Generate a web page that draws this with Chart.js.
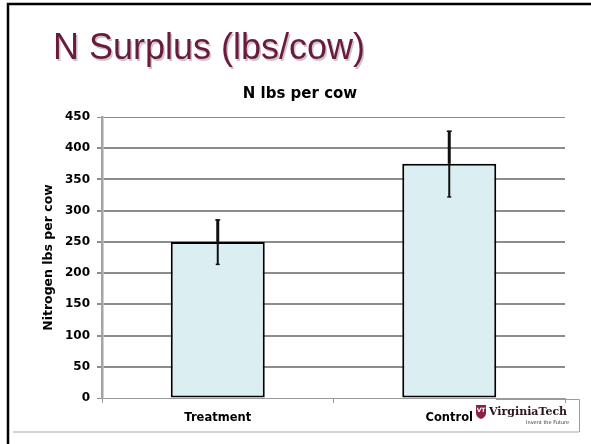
<!DOCTYPE html>
<html>
<head>
<meta charset="utf-8">
<script src="https://cdn.jsdelivr.net/npm/chart.js@4"></script>
<style>
  html, body { margin: 0; padding: 0; background: #ffffff; }
  #wrap { position: relative; width: 591px; height: 444px; }
  canvas { display: block; }
</style>
</head>
<body>
<div id="wrap"><canvas id="c" width="591" height="444"></canvas></div>
<script>
// ---- data ----
const categories = ['Treatment', 'Control'];
const values = [250, 375];
const errors = [36, 53];
const yTicks = [0, 50, 100, 150, 200, 250, 300, 350, 400, 450];
const slideTitle = 'N Surplus (lbs/cow)';
const chartTitle = 'N lbs per cow';
const yTitle = 'Nitrogen lbs per cow';

const BOLD = 'bold';
const FAM = '"DejaVu Sans", sans-serif';

const decorations = {
  id: 'decorations',
  beforeDraw(chart) {
    const ctx = chart.ctx;
    ctx.save();
    ctx.fillStyle = '#ffffff';
    ctx.fillRect(0, 0, chart.width, chart.height);
    ctx.restore();
  },
  afterDraw(chart) {
    const ctx = chart.ctx;
    ctx.save();
    // slide frame
    ctx.strokeStyle = '#000000';
    ctx.lineWidth = 2.5;
    ctx.beginPath();
    ctx.moveTo(8, 444); ctx.lineTo(8, 4); ctx.lineTo(591, 4);
    ctx.stroke();
    // bottom rule
    ctx.strokeStyle = '#c4c4c4';
    ctx.lineWidth = 1.5;
    ctx.beginPath(); ctx.moveTo(13, 432); ctx.lineTo(579, 432); ctx.stroke();
    // slide title
    ctx.font = '36px "Liberation Sans", Arial, sans-serif';
    ctx.textBaseline = 'alphabetic';
    ctx.textAlign = 'left';
    ctx.fillStyle = '#cfc6ca';
    ctx.fillText(slideTitle, 54.5, 60.5);
    ctx.fillStyle = '#6a1b3d';
    ctx.fillText(slideTitle, 53, 59);
    // logo box
    ctx.strokeStyle = '#9a9a9a';
    ctx.lineWidth = 1;
    ctx.beginPath();
    ctx.moveTo(496, 399.5); ctx.lineTo(579.5, 399.5); ctx.lineTo(579.5, 432);
    ctx.stroke();
    // shield
    ctx.fillStyle = '#8b1f45';
    ctx.beginPath();
    ctx.moveTo(476, 405); ctx.lineTo(486, 405); ctx.lineTo(486, 413);
    ctx.quadraticCurveTo(486, 417, 481, 419);
    ctx.quadraticCurveTo(476, 417, 476, 413);
    ctx.closePath(); ctx.fill();
    ctx.fillStyle = '#ffffff';
    ctx.font = 'bold 6px "DejaVu Sans", sans-serif';
    ctx.textAlign = 'center';
    ctx.textBaseline = 'middle';
    ctx.fillText('VT', 481, 410);
    ctx.fillStyle = '#2a1420';
    ctx.font = 'bold 11px "DejaVu Serif", serif';
    ctx.textAlign = 'left';
    ctx.textBaseline = 'alphabetic';
    ctx.fillText('VirginiaTech', 489, 415, 82);
    ctx.fillStyle = '#333333';
    ctx.font = '5px "DejaVu Sans", sans-serif';
    ctx.fillText('Invent the Future', 526, 424, 44);
    ctx.restore();
  }
};

const errorBars = {
  id: 'errorBars',
  afterDatasetsDraw(chart) {
    const ctx = chart.ctx;
    const y = chart.scales.y;
    const meta = chart.getDatasetMeta(0);
    ctx.save();
    ctx.strokeStyle = '#111111';
    meta.data.forEach((bar, i) => {
      const x = bar.x;
      const top = y.getPixelForValue(values[i] + errors[i]);
      const mid = y.getPixelForValue(values[i]);
      const bot = y.getPixelForValue(values[i] - errors[i]);
      ctx.lineWidth = 3;
      ctx.beginPath(); ctx.moveTo(x, top); ctx.lineTo(x, mid); ctx.stroke();
      ctx.lineWidth = 2;
      ctx.beginPath(); ctx.moveTo(x, mid); ctx.lineTo(x, bot); ctx.stroke();
      ctx.lineWidth = 1.5;
      ctx.beginPath(); ctx.moveTo(x - 2.5, top + 0.5); ctx.lineTo(x + 2.5, top + 0.5); ctx.stroke();
      ctx.beginPath(); ctx.moveTo(x - 2, bot); ctx.lineTo(x + 2, bot); ctx.stroke();
    });
    ctx.restore();
  }
};

new Chart(document.getElementById('c'), {
  type: 'bar',
  data: {
    labels: categories,
    datasets: [{
      data: values,
      backgroundColor: '#dbeef1',
      borderColor: '#000000',
      borderWidth: 2,
      borderSkipped: false,
      barPercentage: 0.406,
      categoryPercentage: 1.0
    }]
  },
  options: {
    responsive: false,
    animation: false,
    devicePixelRatio: 1,
    layout: { padding: { left: 35, right: 26, top: 0, bottom: 0 } },
    plugins: {
      legend: { display: false },
      tooltip: { enabled: false },
      title: {
        display: true,
        text: chartTitle,
        color: '#000000',
        font: { family: FAM, size: 15, weight: BOLD },
        padding: { top: 85, bottom: 14 }
      }
    },
    scales: {
      x: {
        offset: true,
        grid: { display: true, drawOnChartArea: false, offset: true, tickLength: 5, color: '#9a9a9a', lineWidth: 1 },
        border: { display: true, color: '#9a9a9a', width: 1 },
        ticks: { color: '#000000', padding: 8, font: { family: FAM, size: 11.5, weight: BOLD } },
        afterFit(scale) { scale.height = 46; }
      },
      y: {
        min: 0,
        max: 450,
        afterBuildTicks(scale) { scale.ticks = yTicks.map(v => ({ value: v })); },
        grid: {
          color: '#8c8c8c',
          lineWidth: (c) => (c.tick && (c.tick.value === 450 || c.tick.value === 0)) ? 1 : 2,
          tickLength: 5
        },
        border: { display: true, color: '#a3a3a3', width: 2.5 },
        ticks: { color: '#000000', padding: 7, font: { family: FAM, size: 12, weight: BOLD } },
        title: {
          display: true,
          text: yTitle,
          color: '#000000',
          font: { family: FAM, size: 12.5, weight: BOLD },
          padding: { top: 6.5, bottom: 0 }
        },
        afterFit(scale) { scale.width = 67; }
      }
    }
  },
  plugins: [decorations, errorBars]
});
</script>
</body>
</html>
